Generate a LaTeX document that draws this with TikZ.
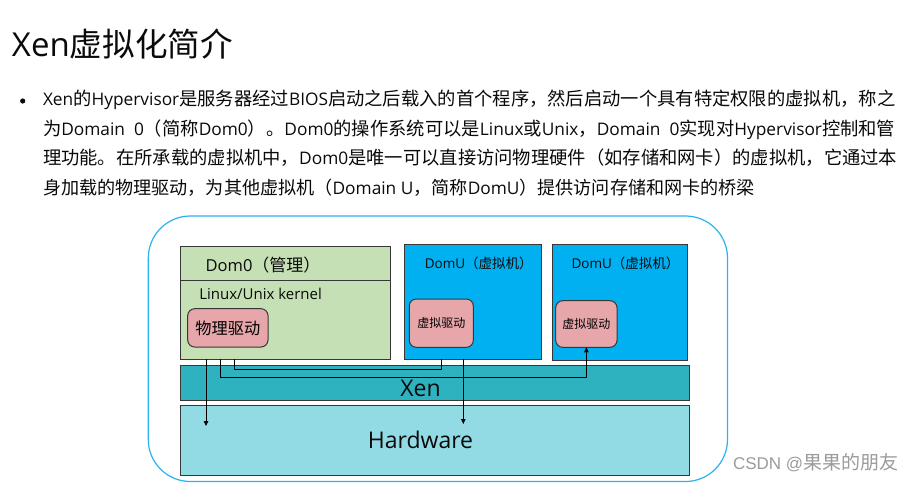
\documentclass[tikz,border=0pt]{standalone}
\usepackage{fontspec}
\setmainfont{Open Sans}
\newfontfamily\cjk{Noto Sans CJK SC}
\newfontfamily\wmfont{Liberation Sans}
\usetikzlibrary{arrows.meta}
\def\zhsz{18}
\newcommand\zh[1]{{\cjk\fontsize{\zhsz}{\zhsz}\selectfont #1}}
\newcommand\fs[2]{\def\zhsz{#2}\fontsize{#1}{#1}\selectfont}
\definecolor{dom0green}{RGB}{197,224,180}
\definecolor{domublue}{RGB}{0,176,240}
\definecolor{drvpink}{RGB}{230,166,170}
\definecolor{xenteal}{RGB}{46,178,192}
\definecolor{hwblue}{RGB}{146,218,228}
\definecolor{framebl}{RGB}{40,180,240}
\definecolor{edgegray}{RGB}{55,55,55}
\definecolor{wmgray}{RGB}{155,155,155}
\definecolor{txt}{RGB}{10,10,10}
\tikzset{
  box/.style={draw=edgegray, line width=1pt, inner sep=0pt, outer sep=0pt, anchor=north west},
  drvbox/.style={box, rounded corners=7pt, fill=drvpink},
  lbl/.style={anchor=base west, inner sep=0pt, outer sep=0pt, text=txt},
  ctr/.style={anchor=base, inner sep=0pt, outer sep=0pt, text=txt},
  conn/.style={draw=black, line width=0.8pt},
  tip/.style={-{Triangle[length=5pt,width=4.5pt]}},
}
\begin{document}
\begin{tikzpicture}[x=1pt,y=-1pt]
\useasboundingbox (0,0) rectangle (920,482);
\fill[white] (0,0) rectangle (920,482);

% title
\node[lbl] (title) at (12,56) {\fs{33}{32.6}Xen\zh{虚拟化简介}};

% bullet paragraph
\fill[txt] (22.7,101) circle (2.6);
\node[lbl] (l1) at (43,105.7) {\fs{17.3}{18.3}Xen\zh{的}Hypervisor\zh{是服务器经过}BIOS\zh{启动之后载入的首个程序，然后启动一个具有特定权限的虚拟机，称之}};
\node[lbl] (l2) at (43,135.2) {\fs{17.3}{18.3}\zh{为}Domain\ \ 0\zh{（简称}Dom0\zh{）。}Dom0\zh{的操作系统可以是}Linux\zh{或}Unix\zh{，}Domain\ \ 0\zh{实现对}Hypervisor\zh{控制和管}};
\node[lbl] (l3) at (43,164.7) {\fs{17.3}{18.3}\zh{理功能。在所承载的虚拟机中，}Dom0\zh{是唯一可以直接访问物理硬件（如存储和网卡）的虚拟机，它通过本}};
\node[lbl] (l4) at (43,194.2) {\fs{17.3}{18.1}\zh{身加载的物理驱动，为其他虚拟机（}Domain U\zh{，简称}DomU\zh{）提供访问存储和网卡的桥梁}};

% outer frame
\draw[framebl, line width=1.2pt, fill=white, rounded corners=42pt] (148.3,216) rectangle (727.5,481.5);

% Dom0
\node[box, fill=dom0green, minimum width=210pt, minimum height=112.5pt] (dom0) at (180,246.5) {};
\draw[edgegray, line width=1pt] (dom0.west |- 0,280.7) -- (dom0.east |- 0,280.7);
\node[lbl] (dom0lbl) at (205.7,271.7) {\fs{16.5}{17}Dom0\zh{（管理）}};
\node[lbl] (kern) at (199.3,299.3) {\fs{15}{15}Linux/Unix kernel};
\node[drvbox, minimum width=80.3pt, minimum height=38.3pt] (pd) at (187.7,308.7) {\fs{16}{16.2}\zh{物理驱动}};

% DomU 1
\node[box, fill=domublue, minimum width=137.4pt, minimum height=115pt] (domu1) at (404.3,244.3) {};
\node[ctr] (domu1lbl) at (478.7,268) {\fs{13.5}{13.5}DomU\zh{（虚拟机）}};
\node[drvbox, minimum width=64pt, minimum height=48.3pt] (vd1) at (409.3,299) {\fs{12}{12}\zh{虚拟驱动}};

% DomU 2
\node[box, fill=domublue, minimum width=135.7pt, minimum height=116pt] (domu2) at (552,244.7) {};
\node[ctr] (domu2lbl) at (625.5,268) {\fs{13.5}{13.5}DomU\zh{（虚拟机）}};
\node[drvbox, minimum width=61.3pt, minimum height=46.6pt] (vd2) at (555.7,300.7) {\fs{12}{12}\zh{虚拟驱动}};

% Xen and Hardware
\node[box, fill=xenteal, minimum width=509pt, minimum height=35.5pt] (xen) at (180,365) {};
\node[ctr] (xenlbl) at (420.5,396.7) {\fs{23}{23}Xen};
\node[box, fill=hwblue, minimum width=509pt, minimum height=70pt] (hw) at (180,405) {};
\node[ctr] (hwlbl) at (420.5,448) {\fs{23}{23}Hardware};

% connectors
\coordinate (e1) at (206,426);
\coordinate (k2) at (vd2.south |- 0,377.3);
\coordinate (k3) at (441.7,369.3);
\coordinate (e4) at (463.3,424);
\draw[conn, tip] (dom0.south -| e1) -- (e1);
\draw[conn, tip] (dom0.south -| 220,0) |- (k2) -- (vd2.south);
\draw[conn] (dom0.south -| 234.3,0) |- (k3) -- (domu1.south -| k3);
\draw[conn, tip] (domu1.south -| e4) -- (e4);

% watermark
\node[lbl, text=wmgray] (wm) at (733,469) {\fs{17}{19}\wmfont CSDN @\zh{果果的朋友}};
\end{tikzpicture}
\end{document}
